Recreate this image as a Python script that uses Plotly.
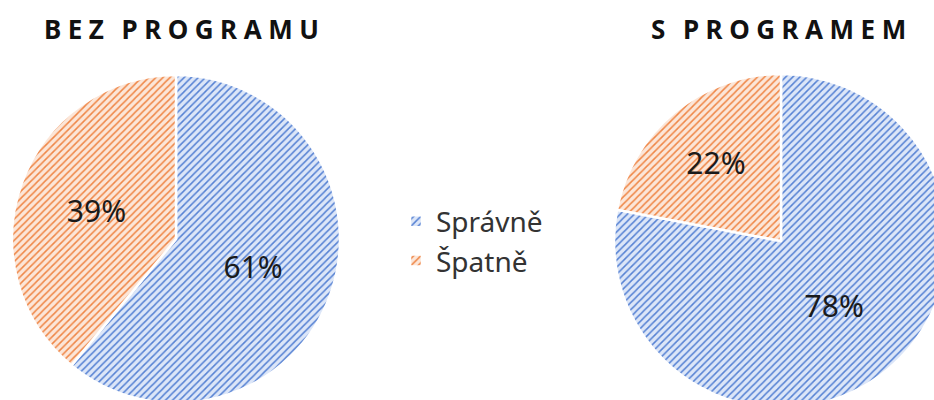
import plotly.graph_objects as go

categories = ["Správně", "Špatně"]
bez_programu = [61, 39]
s_programem = [78, 22]
titles = ["BEZ PROGRAMU", "S PROGRAMEM"]

W, H = 955, 415
fg = ["#5581D3", "#EF8646"]
bg = ["#DCE6F8", "#FCE6D8"]

def spaced(t):
    return "\u2005 \u2006".join("\u2005".join(list(w)) for w in t.split(" "))

def pie(values, dom):
    return go.Pie(
        labels=categories, values=values, sort=False, direction="clockwise",
        rotation=0, domain=dom, textinfo="percent", texttemplate="%{percent:.0%}",
        textposition="inside", insidetextorientation="horizontal",
        textfont=dict(family="Noto Sans", size=30, color="#1a1a1a"),
        marker=dict(colors=bg, line=dict(color="white", width=2.5),
                    pattern=dict(shape="/", fgcolor=fg, bgcolor=bg, size=5, solidity=0.3)),
        hoverinfo="skip",
    )

fig = go.Figure()
fig.add_trace(pie(bez_programu, dict(x=[12 / W, 340 / W], y=[1 - 403 / H, 1 - 75 / H])))
fig.add_trace(pie(s_programem, dict(x=[614 / W, 948 / W], y=[1 - 408 / H, 1 - 74 / H])))

for t, cx in zip(titles, [181, 778]):
    fig.add_annotation(text="<b>" + spaced(t) + "</b>", x=cx / W, y=1 - 29 / H, xref="paper", yref="paper",
                       showarrow=False, xanchor="center", yanchor="middle",
                       font=dict(family="Noto Sans", size=26, color="#111111"))

fig.update_layout(
    width=W, height=H, margin=dict(l=0, r=0, t=0, b=0),
    paper_bgcolor="white", plot_bgcolor="white",
    legend=dict(x=396 / W, y=1 - 241 / H, xanchor="left", yanchor="middle",
                font=dict(family="Noto Sans", size=28, color="#333333"),
                itemwidth=30),
)

fig.write_html("out.html", config={"displayModeBar": False},
               post_script="document.body.style.margin='0';document.body.style.overflow='hidden';")
